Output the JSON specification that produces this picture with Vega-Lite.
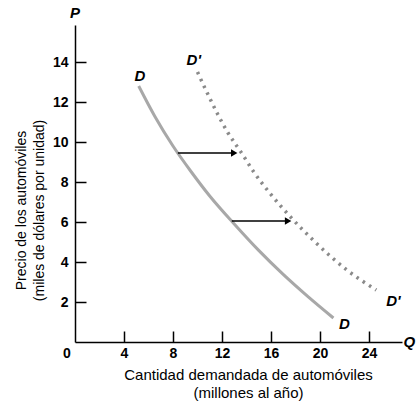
{
  "$schema": "https://vega.github.io/schema/vega-lite/v6.json",
  "width": 327,
  "height": 317,
  "autosize": "none",
  "padding": {"left": 75, "top": 25, "right": 14, "bottom": 60},
  "background": "white",
  "config": {"view": {"stroke": null}, "font": "Liberation Sans"},
  "datasets": {
    "D": [
      {"q": 5.2, "p": 12.8}, {"q": 6.5, "p": 11.3}, {"q": 8.0, "p": 9.8}, {"q": 9.5, "p": 8.5},
      {"q": 11.0, "p": 7.3}, {"q": 13.0, "p": 5.9}, {"q": 15.0, "p": 4.58}, {"q": 17.0, "p": 3.38},
      {"q": 19.0, "p": 2.28}, {"q": 21.1, "p": 1.2}
    ],
    "Dp": [
      {"q": 10.0, "p": 13.5}, {"q": 10.8, "p": 12.45}, {"q": 11.6, "p": 11.45}, {"q": 12.5, "p": 10.45},
      {"q": 13.6, "p": 9.45}, {"q": 14.6, "p": 8.5}, {"q": 15.9, "p": 7.45}, {"q": 17.6, "p": 6.25},
      {"q": 19.6, "p": 5.0}, {"q": 22.2, "p": 3.6}, {"q": 24.6, "p": 2.6}
    ],
    "arrows": [
      {"q1": 8.4, "q2": 13.0, "p": 9.45},
      {"q1": 12.8, "q2": 17.4, "p": 6.05}
    ],
    "labels": [
      {"q": 5.3, "p": 13.3, "t": "D"},
      {"q": 9.7, "p": 14.1, "t": "D'"},
      {"q": 26.0, "p": 2.05, "t": "D'"},
      {"q": 22.0, "p": 0.9, "t": "D"},
      {"q": 0.0, "p": 16.45, "t": "P"},
      {"q": 27.3, "p": 0.0, "t": "Q"}
    ],
    "zero": [{"q": 0, "p": 0, "t": "0"}]
  },
  "layer": [
    {
      "data": {"name": "D"},
      "mark": {"type": "line", "interpolate": "monotone", "color": "#a8a8a8", "strokeWidth": 3},
      "encoding": {
        "x": {"field": "q", "type": "quantitative",
          "scale": {"domain": [0, 26.7], "nice": false, "zero": false},
          "axis": {
            "values": [4, 8, 12, 16, 20, 24], "grid": false, "domainColor": "black", "domainWidth": 1.5,
            "tickColor": "black", "tickSize": -11, "tickWidth": 1.5, "labelPadding": 15,
            "labelFont": "Liberation Sans", "labelFontSize": 14, "labelFontWeight": "bold", "labelColor": "black",
            "title": ["Cantidad demandada de automóviles", "(millones al año)"],
            "titleFont": "Liberation Sans", "titleFontSize": 15, "titleFontWeight": "normal", "titleColor": "black",
            "titleX": 173, "titleY": 25, "titleBaseline": "top", "titleLineHeight": 18
          }
        },
        "y": {"field": "p", "type": "quantitative",
          "scale": {"domain": [0, 15.85], "nice": false, "zero": false},
          "axis": {
            "values": [2, 4, 6, 8, 10, 12, 14], "grid": false, "domainColor": "black", "domainWidth": 1.5,
            "tickColor": "black", "tickSize": -11, "tickWidth": 1.5, "labelPadding": 18,
            "labelFont": "Liberation Sans", "labelFontSize": 14, "labelFontWeight": "bold", "labelColor": "black",
            "title": ["Precio de los automóviles", "(miles de dólares por unidad)"],
            "titleFont": "Liberation Sans", "titleFontSize": 14, "titleFontWeight": "normal", "titleColor": "black",
            "titleX": -47, "titleY": 185, "titleAngle": -90, "titleBaseline": "bottom", "titleLineHeight": 18
          }
        }
      }
    },
    {
      "data": {"name": "Dp"},
      "mark": {"type": "line", "interpolate": "monotone", "color": "#8a8a8a", "strokeWidth": 3.5, "strokeDash": [2.5, 5]},
      "encoding": {
        "x": {"field": "q", "type": "quantitative"},
        "y": {"field": "p", "type": "quantitative"}
      }
    },
    {
      "data": {"name": "arrows"},
      "mark": {"type": "rule", "color": "black", "strokeWidth": 1.6},
      "encoding": {
        "x": {"field": "q1", "type": "quantitative"},
        "x2": {"field": "q2"},
        "y": {"field": "p", "type": "quantitative"}
      }
    },
    {
      "data": {"name": "arrows"},
      "mark": {"type": "point", "shape": "triangle-right", "filled": true, "color": "black", "size": 55, "opacity": 1},
      "encoding": {
        "x": {"field": "q2", "type": "quantitative"},
        "y": {"field": "p", "type": "quantitative"}
      }
    },
    {
      "data": {"name": "labels"},
      "mark": {"type": "text", "font": "Liberation Sans", "fontSize": 15, "fontStyle": "italic", "fontWeight": "bold", "color": "black", "align": "center", "baseline": "middle", "clip": false},
      "encoding": {
        "x": {"field": "q", "type": "quantitative"},
        "y": {"field": "p", "type": "quantitative"},
        "text": {"field": "t"}
      }
    },
    {
      "data": {"name": "zero"},
      "mark": {"type": "text", "font": "Liberation Sans", "fontSize": 14, "fontWeight": "bold", "color": "black", "align": "center", "baseline": "middle", "dx": -8, "dy": 12},
      "encoding": {
        "x": {"field": "q", "type": "quantitative"},
        "y": {"field": "p", "type": "quantitative"},
        "text": {"field": "t"}
      }
    }
  ]
}
